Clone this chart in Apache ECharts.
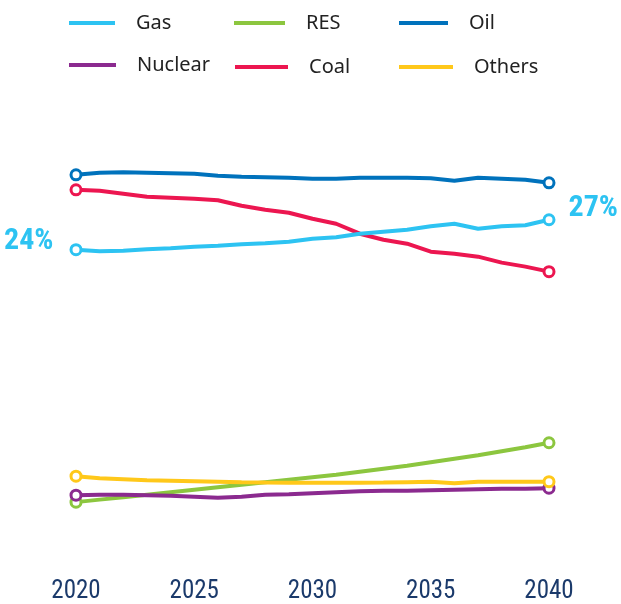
<!DOCTYPE html>
<html lang="en">
<head>
  <meta charset="UTF-8">
  <script src="https://cdn.jsdelivr.net/npm/echarts/dist/echarts.min.js"></script>
  <style>
    body { margin: 0; background: #ffffff; }
    #main { width: 621px; height: 604px; }
  </style>
</head>
<body>
  <div id="main"></div>
  <script>
    // years on the x axis
    var years = [2020, 2021, 2022, 2023, 2024, 2025, 2026, 2027, 2028, 2029, 2030,
                 2031, 2032, 2033, 2034, 2035, 2036, 2037, 2038, 2039, 2040];
    var tickYears = ['2020', '2025', '2030', '2035', '2040'];

    // upper group (share, %)
    var gas = [24.1, 23.95, 24.0, 24.15, 24.25, 24.4, 24.5, 24.65, 24.75, 24.9, 25.2,
               25.35, 25.7, 25.9, 26.1, 26.45, 26.7, 26.2, 26.45, 26.55, 27.1];
    var oil = [31.6, 31.8, 31.85, 31.8, 31.75, 31.7, 31.5, 31.4, 31.35, 31.3, 31.2,
               31.2, 31.3, 31.3, 31.3, 31.25, 31.0, 31.3, 31.2, 31.1, 30.8];
    var coal = [30.1, 30.0, 29.7, 29.4, 29.3, 29.2, 29.05, 28.5, 28.1, 27.8, 27.2,
                26.7, 25.7, 25.1, 24.7, 23.9, 23.7, 23.4, 22.8, 22.4, 21.9];

    // lower group (share, %)
    var res = [4.8, 5.05, 5.3, 5.55, 5.8, 6.05, 6.3, 6.55, 6.8, 7.05, 7.3,
               7.55, 7.85, 8.15, 8.45, 8.8, 9.15, 9.5, 9.9, 10.3, 10.75];
    var nuclear = [5.5, 5.55, 5.55, 5.5, 5.45, 5.35, 5.25, 5.35, 5.55, 5.6, 5.7,
                   5.8, 5.9, 5.95, 5.95, 6.0, 6.05, 6.1, 6.15, 6.15, 6.2];
    var others = [7.4, 7.2, 7.1, 7.0, 6.95, 6.9, 6.85, 6.8, 6.77, 6.75, 6.73,
                  6.73, 6.75, 6.77, 6.8, 6.83, 6.7, 6.85, 6.85, 6.85, 6.85];

    var colors = {
      Gas: '#2DC3F2', RES: '#8CC63F', Oil: '#0072BC',
      Nuclear: '#8B2A8F', Coal: '#EC1650', Others: '#FFC81A'
    };

    var narrowFont = '"Roboto Condensed", "DejaVu Sans Condensed", "Liberation Sans", sans-serif';

    // build [year, value] points; only first and last get a circle
    function points(values, withLabels) {
      var last = values.length - 1;
      return values.map(function (v, i) {
        var item = { value: [years[i], v] };
        if (i !== 0 && i !== last) {
          item.symbol = 'none';
        } else if (withLabels) {
          item.label = {
            show: true,
            position: i === 0 ? 'left' : 'right',
            distance: i === 0 ? 16 : 13,
            offset: i === 0 ? [0, -8] : [0, -11],
            formatter: Math.round(v) + '%',
            color: colors.Gas,
            fontFamily: narrowFont,
            fontWeight: 'bold',
            fontSize: 30
          };
        }
        return item;
      });
    }

    function lineSeries(name, values, axis, withLabels) {
      return {
        name: name,
        type: 'line',
        yAxisIndex: axis,
        data: points(values, withLabels),
        symbol: 'circle',
        symbolSize: 10,
        showAllSymbol: true,
        lineStyle: { color: colors[name], width: 4 },
        itemStyle: { color: '#ffffff', borderColor: colors[name], borderWidth: 3 },
        emphasis: { disabled: true }
      };
    }

    function legendItem(name, left, top, iconWidth) {
      return {
        left: left,
        top: top,
        padding: 0,
        itemWidth: iconWidth,
        itemHeight: 4,
        selectedMode: false,
        data: [{ name: name, icon: 'rect', itemStyle: { color: colors[name], borderWidth: 0 } }],
        textStyle: {
          fontFamily: 'Noto Sans',
          fontSize: 20,
          color: '#222222',
          padding: [0, 0, 0, 16],
          lineHeight: 24
        }
      };
    }

    var chart = echarts.init(document.getElementById('main'));

    chart.setOption({
      animation: false,
      grid: { left: 76, right: 72, top: 101, bottom: 43 },
      legend: [
        legendItem('Gas', 69, 11, 46),
        legendItem('RES', 234, 11, 51),
        legendItem('Oil', 399, 11, 49),
        legendItem('Nuclear', 69, 53, 47),
        legendItem('Coal', 235, 55, 53),
        legendItem('Others', 399, 55, 54)
      ],
      xAxis: {
        type: 'value',
        min: 2020,
        max: 2040,
        interval: 5,
        axisLine: { show: false },
        axisTick: { show: false },
        splitLine: { show: false },
        axisLabel: {
          margin: 19,
          fontFamily: narrowFont,
          fontSize: 25,
          color: '#1B3A6B',
          formatter: function (v) {
            return tickYears.indexOf(String(v)) >= 0 ? String(v) : '';
          }
        }
      },
      yAxis: [
        { type: 'value', min: -7, max: 39, show: false },
        { type: 'value', min: -1, max: 45, show: false }
      ],
      series: [
        lineSeries('RES', res, 1),
        lineSeries('Nuclear', nuclear, 1),
        lineSeries('Others', others, 1),
        lineSeries('Coal', coal, 0),
        lineSeries('Gas', gas, 0, true),
        lineSeries('Oil', oil, 0)
      ]
    });
  </script>
</body>
</html>
